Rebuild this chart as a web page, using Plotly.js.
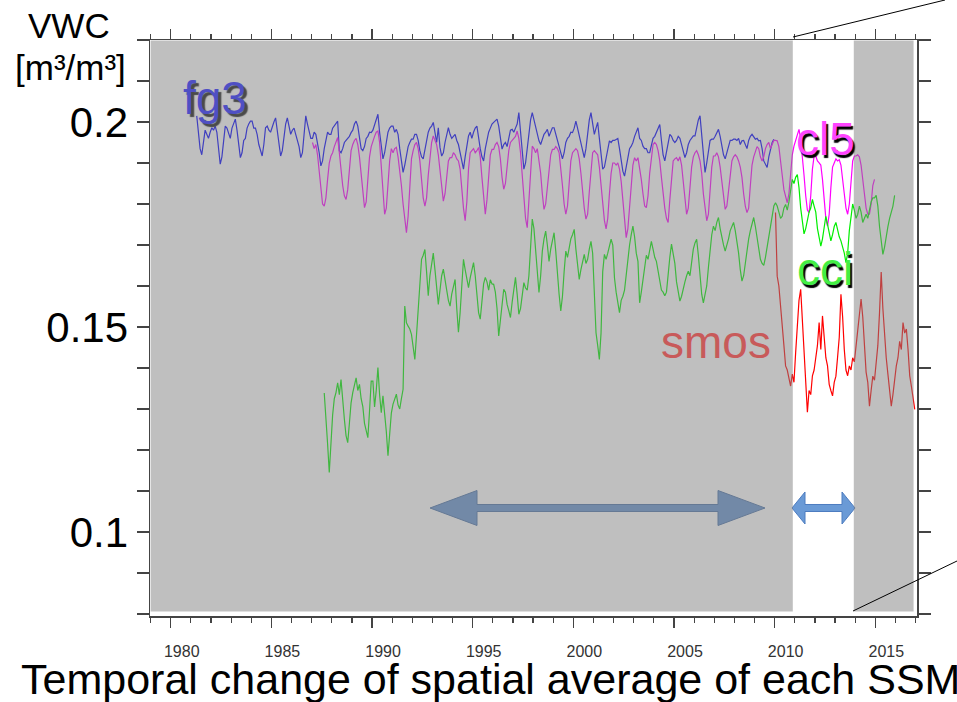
<!DOCTYPE html>
<html>
<head>
<meta charset="utf-8">
<script src="https://cdn.plot.ly/plotly-3.0.1.min.js"></script>
<style>html,body{margin:0;padding:0;background:#fff;}#chart{width:957px;height:702px;}</style>
</head>
<body>
<div id="chart"></div>
<script>
// ---- Data (monthly spatial-average VWC, m3/m3) ----
// fg3: Apr 1981 .. Dec 2009
const fg3Start = [1981, 3];
const fg3 = [
 0.2015,0.198,0.1935,0.192,0.1945,0.198,0.197,0.196,0.1975,
 0.1986,0.198,0.199,0.1975,0.194,0.1897,0.1915,0.1955,0.199,0.1985,0.197,0.196,
 0.1985,0.1995,0.2007,0.198,0.1945,0.1913,0.1925,0.1955,0.196,0.1985,0.1995,0.2002,
 0.2002,0.1985,0.1985,0.197,0.1945,0.193,0.1917,0.1945,0.1986,0.199,0.198,0.1975,
 0.199,0.2,0.201,0.1975,0.1945,0.1917,0.193,0.196,0.1995,0.201,0.199,0.197,
 0.198,0.1985,0.197,0.1955,0.194,0.1913,0.1925,0.197,0.2015,0.1995,0.1975,0.196,
 0.196,0.1975,0.197,0.195,0.1925,0.1893,0.1905,0.1935,0.196,0.1975,0.197,0.197,
 0.1985,0.199,0.1995,0.2002,0.193,0.1925,0.1935,0.195,0.1955,0.196,0.1965,0.1974,
 0.198,0.1995,0.2002,0.199,0.1955,0.1935,0.193,0.194,0.196,0.1965,0.1975,0.1974,
 0.198,0.1995,0.201,0.2019,0.1975,0.1935,0.191,0.1925,0.1955,0.1975,0.1985,0.199,
 0.199,0.1975,0.1982,0.197,0.1935,0.19,0.1877,0.1895,0.192,0.194,0.195,0.1958,
 0.1958,0.197,0.197,0.1955,0.193,0.1915,0.191,0.193,0.1955,0.1975,0.1985,0.199,
 0.1999,0.1975,0.195,0.1986,0.1938,0.1917,0.1925,0.195,0.1965,0.1986,0.197,0.196,
 0.1965,0.197,0.1955,0.1945,0.1925,0.19,0.1885,0.1915,0.194,0.1966,0.1975,0.196,
 0.1975,0.1985,0.199,0.1955,0.1935,0.1915,0.1905,0.1935,0.1955,0.1975,0.1985,0.1995,
 0.1999,0.2003,0.2007,0.199,0.1955,0.1934,0.1945,0.195,0.194,0.196,0.198,0.1982,
 0.1975,0.1985,0.1995,0.2023,0.198,0.1935,0.1885,0.19,0.1935,0.197,0.2005,0.2023,
 0.2005,0.1985,0.197,0.1954,0.1945,0.196,0.197,0.1975,0.1982,0.1965,0.1975,0.1986,
 0.1986,0.197,0.1955,0.1935,0.192,0.191,0.1925,0.195,0.196,0.1965,0.1975,0.1974,
 0.1985,0.2002,0.1985,0.1966,0.195,0.193,0.1913,0.1935,0.197,0.2005,0.2023,0.199,
 0.197,0.1985,0.1999,0.196,0.1925,0.1885,0.189,0.191,0.1935,0.1954,0.195,0.1955,
 0.1955,0.1958,0.196,0.1935,0.1905,0.188,0.1868,0.189,0.192,0.1935,0.1941,0.195,
 0.1965,0.1975,0.1986,0.196,0.1955,0.1941,0.1935,0.1935,0.1925,0.1925,0.1945,0.196,
 0.1965,0.1974,0.1985,0.1994,0.1955,0.192,0.1905,0.1925,0.195,0.197,0.1965,0.1955,
 0.195,0.1955,0.1965,0.196,0.1945,0.193,0.1913,0.1925,0.1945,0.1955,0.196,0.1966,
 0.1966,0.1985,0.2005,0.2015,0.1965,0.1915,0.1877,0.19,0.193,0.1955,0.1958,0.1958,
 0.1965,0.1975,0.1982,0.1965,0.1945,0.192,0.191,0.1925,0.1945,0.1955,0.1955,0.1958,
 0.1958,0.1955,0.196,0.1945,0.1954,0.1955,0.1945,0.1935,0.1955,0.1965,0.197,0.1965,
 0.1958,0.196,0.1954,0.1955,0.1935,0.1905,0.1895,0.1889,0.1915,0.1935,0.195,0.1958
];
// cl5: Jan 1987 .. Dec 2014
const cl5Start = [1987, 0];
const cl5 = [
 0.195,0.1935,0.1945,0.192,0.188,0.1835,0.18,0.1795,0.1815,0.186,0.19,0.1917,
 0.1925,0.194,0.195,0.1962,0.1925,0.188,0.1845,0.182,0.1811,0.1835,0.189,0.193,
 0.1945,0.1955,0.196,0.1945,0.1915,0.187,0.1825,0.1791,0.1805,0.186,0.1915,0.194,
 0.1955,0.1965,0.1975,0.1978,0.195,0.189,0.183,0.1775,0.179,0.1845,0.1905,0.1935,
 0.1925,0.1935,0.1938,0.1915,0.1885,0.1845,0.18,0.1765,0.173,0.177,0.1855,0.191,
 0.193,0.1945,0.195,0.1935,0.1905,0.186,0.1815,0.1795,0.1815,0.187,0.192,0.195,
 0.1966,0.1955,0.1945,0.192,0.188,0.1835,0.1807,0.1825,0.187,0.1905,0.1913,0.1913,
 0.1925,0.192,0.191,0.1905,0.1885,0.1835,0.179,0.1759,0.1805,0.1885,0.1925,0.193,
 0.1935,0.1925,0.193,0.1938,0.1915,0.1865,0.181,0.1775,0.181,0.1875,0.192,0.1933,
 0.1933,0.1945,0.195,0.194,0.191,0.1865,0.1836,0.185,0.189,0.193,0.195,0.1955,
 0.196,0.1965,0.1978,0.196,0.1925,0.187,0.181,0.1765,0.1742,0.1815,0.1895,0.1941,
 0.1935,0.1925,0.1935,0.191,0.1875,0.1825,0.1787,0.18,0.1845,0.1895,0.192,0.1933,
 0.1933,0.194,0.1935,0.1925,0.189,0.1845,0.18,0.1775,0.1795,0.185,0.1905,0.1925,
 0.193,0.1935,0.193,0.191,0.1875,0.1825,0.179,0.1763,0.1775,0.183,0.189,0.1925,
 0.193,0.1925,0.192,0.189,0.185,0.18,0.176,0.1739,0.1765,0.1825,0.1875,0.19,
 0.19,0.1895,0.19,0.1885,0.1855,0.181,0.1755,0.1718,0.174,0.18,0.186,0.1895,
 0.1913,0.1905,0.1913,0.189,0.186,0.1825,0.1795,0.1791,0.182,0.1875,0.192,0.1945,
 0.195,0.1945,0.193,0.1905,0.1865,0.1825,0.179,0.1765,0.1755,0.181,0.187,0.1905,
 0.191,0.1913,0.1905,0.1915,0.1895,0.1855,0.181,0.1775,0.179,0.184,0.189,0.1915,
 0.1925,0.193,0.192,0.1905,0.1875,0.1825,0.1785,0.1759,0.1775,0.1835,0.189,0.1917,
 0.1917,0.1925,0.1915,0.189,0.1855,0.1815,0.1787,0.1795,0.1835,0.188,0.1905,0.1915,
 0.192,0.1915,0.1905,0.189,0.1865,0.1825,0.1795,0.1779,0.179,0.1845,0.1895,0.1915,
 0.193,0.194,0.1935,0.1915,0.1905,0.1915,0.1935,0.1945,0.195,0.1935,0.1945,0.1955,
 0.1955,0.1954,0.194,0.191,0.187,0.1835,0.1815,0.1803,0.1825,0.1875,0.192,0.1941,
 0.1955,0.197,0.1982,0.1958,0.192,0.187,0.182,0.1785,0.1779,0.182,0.1885,0.1917,
 0.1917,0.1905,0.19,0.1895,0.186,0.181,0.1765,0.1746,0.1775,0.184,0.189,0.19,
 0.191,0.1905,0.1908,0.1895,0.1865,0.1825,0.179,0.1775,0.18,0.186,0.1905,0.1917,
 0.1917,0.192,0.1915,0.1895,0.1865,0.1825,0.179,0.1775,0.1775,0.18,0.1845,0.186
];
// cci: Aug 1987 .. Dec 2015
const cciStart = [1987, 7];
const cci = [
 0.1339,0.1283,0.1215,0.1145,0.1227,
 0.1285,0.1325,0.134,0.1364,0.1335,0.1372,0.131,0.1275,0.1235,0.1218,0.1265,0.1315,
 0.134,0.1355,0.1376,0.1345,0.136,0.1325,0.1306,0.1265,0.1245,0.123,0.1295,0.1368,
 0.1368,0.1305,0.1345,0.1401,0.1335,0.1291,0.1332,0.1295,0.1245,0.1186,0.1235,0.129,
 0.1312,0.1325,0.1336,0.131,0.13,0.1325,0.1348,0.1551,0.151,0.1502,0.1495,0.1482,
 0.1455,0.1421,0.148,0.1551,0.1595,0.1665,0.1675,0.1689,0.1635,0.1576,0.1625,0.166,
 0.168,0.164,0.159,0.1555,0.159,0.1625,0.1641,0.162,0.159,0.1565,0.1551,0.158,
 0.1595,0.1616,0.1545,0.1487,0.1535,0.1605,0.1665,0.164,0.1615,0.1596,0.162,0.164,
 0.1657,0.1625,0.157,0.1535,0.1519,0.1565,0.1605,0.1621,0.161,0.159,0.1615,0.1605,
 0.1604,0.1585,0.1545,0.1478,0.1515,0.1555,0.1592,0.1585,0.1555,0.154,0.1523,0.156,
 0.1595,0.1621,0.158,0.1531,0.1545,0.158,0.1608,0.1595,0.159,0.1625,0.1705,0.1763,
 0.174,0.168,0.163,0.1584,0.1625,0.1685,0.1715,0.1734,0.17,0.166,0.169,0.1715,
 0.173,0.1685,0.1624,0.158,0.1539,0.1575,0.1635,0.1685,0.167,0.1695,0.1715,0.1725,
 0.1738,0.169,0.1645,0.1616,0.164,0.166,0.1677,0.1655,0.1665,0.169,0.1709,0.168,
 0.16,0.1486,0.1455,0.1421,0.1485,0.1635,0.1677,0.1665,0.168,0.1695,0.1714,0.17,
 0.162,0.1585,0.1555,0.1535,0.1565,0.1575,0.159,0.163,0.1665,0.17,0.1725,0.1746,
 0.172,0.168,0.166,0.1559,0.1585,0.162,0.1655,0.1675,0.1665,0.169,0.1709,0.169,
 0.167,0.166,0.1635,0.161,0.159,0.1585,0.1576,0.1585,0.1635,0.167,0.1702,0.1675,
 0.1655,0.161,0.1585,0.1563,0.1575,0.1595,0.161,0.1625,0.1636,0.1625,0.1665,0.169,
 0.1705,0.1714,0.1675,0.1615,0.158,0.1559,0.1585,0.16,0.1645,0.169,0.1725,0.1746,
 0.1735,0.1755,0.1767,0.174,0.1715,0.17,0.1685,0.1698,0.1715,0.1735,0.1745,0.1755,
 0.1735,0.171,0.168,0.164,0.1612,0.1625,0.166,0.169,0.1715,0.1735,0.1755,0.1767,
 0.1745,0.1715,0.169,0.1665,0.1655,0.165,0.167,0.1695,0.1725,0.1755,0.178,0.1795,
 0.1803,0.1795,0.178,0.1765,0.177,0.179,0.1799,0.1785,0.1805,0.1835,0.186,0.185,
 0.1865,0.1872,0.184,0.179,0.1755,0.1727,0.174,0.1765,0.178,0.179,0.1811,0.1795,
 0.178,0.174,0.1715,0.1697,0.1715,0.1745,0.177,0.175,0.173,0.171,0.1725,0.1745,
 0.1755,0.1735,0.172,0.171,0.1697,0.168,0.1657,0.168,0.1735,0.1775,0.18,0.1785,
 0.1765,0.1775,0.1795,0.178,0.1755,0.1765,0.1775,0.1765,0.1785,0.1805,0.1815,0.1815,
 0.1821,0.1795,0.1745,0.171,0.1677,0.1695,0.1725,0.1745,0.1765,0.178,0.1795,0.1821
];
// smos: Jan 2010 .. Dec 2016
const smosStart = [2010, 0];
const smos = [
 0.1779,0.1624,0.16,0.1545,0.1494,0.1455,0.1405,0.1395,0.1375,0.1356,0.1385,0.1365,
 0.1437,0.1511,0.1565,0.1592,0.1519,0.1445,0.1365,0.1292,0.1345,0.1335,0.1381,0.1395,
 0.1425,0.1455,0.1511,0.1445,0.1527,0.1465,0.1425,0.1405,0.136,0.1345,0.1332,0.1365,
 0.138,0.1426,0.1475,0.158,0.1525,0.1445,0.1395,0.1381,0.1405,0.1395,0.1425,0.1415,
 0.1455,0.1505,0.1545,0.1568,0.1525,0.146,0.139,0.1365,0.1307,0.1345,0.138,0.137,
 0.1405,0.1455,0.1535,0.1634,0.1545,0.1478,0.1425,0.1385,0.1345,0.1307,0.1335,0.1375,
 0.1405,0.1425,0.1465,0.1445,0.1511,0.1485,0.1495,0.1445,0.1381,0.1355,0.1325,0.1299
];
const seriesNames = ['fg3', 'cl5', 'cci', 'smos'];
const seriesColors = ['#0000ff', '#ff00ff', '#00ee00', '#ff0000'];

// monthly time index (mid-month, decimal years)
function monthIndex(start, n) {
  const out = [];
  for (let i = 0; i < n; i++) out.push(start[0] + (start[1] + i + 0.5) / 12);
  return out;
}

const allData = [[fg3, fg3Start], [cl5, cl5Start], [cci, cciStart], [smos, smosStart]];
const traces = allData.map((d, k) => ({
  type: 'scatter', mode: 'lines',
  x: monthIndex(d[1], d[0].length), y: d[0],
  name: seriesNames[k],
  line: {color: seriesColors[k], width: 1.2},
  hoverinfo: 'skip', showlegend: false
}));

// ---- geometry helpers (pixel -> paper) ----
const L = 150, R = 40, T = 40, B = 86, W = 957, H = 702;
const PW = W - L - R, PH = H - T - B;
const px = v => (v - L) / PW;
const py = v => (H - B - v) / PH;
function pathPx(pts) {
  return 'M ' + pts.map(p => px(p[0]).toFixed(5) + ',' + py(p[1]).toFixed(5)).join(' L ') + ' Z';
}
function dblArrow(x0, x1, hl, yc, hh, sh) {
  return pathPx([[x0, yc], [x0 + hl, yc - hh], [x0 + hl, yc - sh], [x1 - hl, yc - sh], [x1 - hl, yc - hh], [x1, yc],
                 [x1 - hl, yc + hh], [x1 - hl, yc + sh], [x0 + hl, yc + sh], [x0 + hl, yc + hh]]);
}

const shapes = [
  // arrows (drawn before the grey overlay so the left one is dimmed)
  {type: 'path', xref: 'paper', yref: 'paper', layer: 'above', path: dblArrow(430, 765, 47, 508, 17.5, 3.5),
   fillcolor: '#6592cf', line: {color: '#4a72a8', width: 1}},
  {type: 'path', xref: 'paper', yref: 'paper', layer: 'above', path: dblArrow(792, 855, 13, 508, 16, 3.5),
   fillcolor: '#6a9ad6', line: {color: '#4d7cc0', width: 1}},
  // grey overlay (periods outside the common window)
  {type: 'rect', xref: 'x', yref: 'y', layer: 'above', x0: 1979.0, x1: 2010.9, y0: 0.0806, y1: 0.2199,
   fillcolor: 'rgba(128,128,128,0.5)', line: {width: 0}},
  {type: 'rect', xref: 'x', yref: 'y', layer: 'above', x0: 2013.93, x1: 2016.9, y0: 0.0806, y1: 0.2199,
   fillcolor: 'rgba(128,128,128,0.5)', line: {width: 0}},
  // zoom indicator lines
  {type: 'line', xref: 'paper', yref: 'paper', x0: px(793), y0: py(37), x1: px(945), y1: py(0), line: {color: '#000', width: 1}},
  {type: 'line', xref: 'paper', yref: 'paper', x0: px(853), y0: py(611), x1: px(957), y1: py(561), line: {color: '#000', width: 1}}
];

const FONT = 'Liberation Sans, Arial, sans-serif';
const annotations = [
  {text: 'VWC', xref: 'paper', yref: 'paper', x: px(69), y: py(26), xanchor: 'center', yanchor: 'middle', showarrow: false,
   font: {family: FONT, size: 35, color: '#000'}},
  {text: '[m³/m³]', xref: 'paper', yref: 'paper', x: px(70), y: py(67), xanchor: 'center', yanchor: 'middle', showarrow: false,
   font: {family: FONT, size: 35, color: '#000'}},
  {text: 'Temporal change of spatial average of each SSM', xref: 'paper', yref: 'paper', x: px(490), y: py(679),
   xanchor: 'center', yanchor: 'middle', showarrow: false, font: {family: FONT, size: 43, color: '#000'}},
  {text: 'fg3', xref: 'paper', yref: 'paper', x: px(181), y: py(98), xanchor: 'left', yanchor: 'middle', showarrow: false,
   font: {family: FONT, size: 46, color: '#4f4fc4', shadow: '3px 3px 1px #4a4a4a'}},
  {text: 'cl5', xref: 'paper', yref: 'paper', x: px(794), y: py(139), xanchor: 'left', yanchor: 'middle', showarrow: false,
   font: {family: FONT, size: 46, color: '#ff44ff', shadow: '2px 3px 1px #000'}},
  {text: 'cci', xref: 'paper', yref: 'paper', x: px(795), y: py(269), xanchor: 'left', yanchor: 'middle', showarrow: false,
   font: {family: FONT, size: 46, color: '#44ee44', shadow: '2px 3px 1px #000'}},
  {text: 'smos', xref: 'paper', yref: 'paper', x: px(659), y: py(342), xanchor: 'left', yanchor: 'middle', showarrow: false,
   font: {family: FONT, size: 46, color: '#c85a5a'}}
];

const layout = {
  width: W, height: H,
  margin: {l: L, r: R, t: T, b: B, pad: 0},
  paper_bgcolor: '#fff', plot_bgcolor: '#fff',
  showlegend: false,
  font: {family: FONT},
  xaxis: {
    range: [1978.97, 2017.07], tick0: 1980, dtick: 5, ticks: 'outside', ticklen: 10, tickwidth: 1.2,
    tickcolor: '#444', showline: true, linecolor: '#444', linewidth: 1.5, mirror: 'ticks',
    showgrid: false, zeroline: false, tickfont: {family: FONT, size: 16, color: '#333'},
    ticklabelshift: 11, ticklabelstandoff: 10,
    minor: {dtick: 1, tick0: 1980, ticks: 'outside', ticklen: 5, tickcolor: '#444', tickwidth: 1.2, showgrid: false}
  },
  yaxis: {
    range: [0.0795, 0.2200], tick0: 0, dtick: 0.05, ticks: 'outside', ticklen: 12, tickwidth: 1.2,
    tickcolor: '#444', showline: true, linecolor: '#444', linewidth: 1.5, mirror: 'ticks',
    showgrid: false, zeroline: false, tickfont: {family: FONT, size: 42, color: '#000'},
    ticklabelstandoff: 0,
    minor: {dtick: 0.01, tick0: 0, ticks: 'outside', ticklen: 12, tickcolor: '#444', tickwidth: 1.2, showgrid: false}
  },
  shapes: shapes,
  annotations: annotations
};

Plotly.newPlot('chart', traces, layout, {displayModeBar: false, staticPlot: true});
</script>
</body>
</html>
